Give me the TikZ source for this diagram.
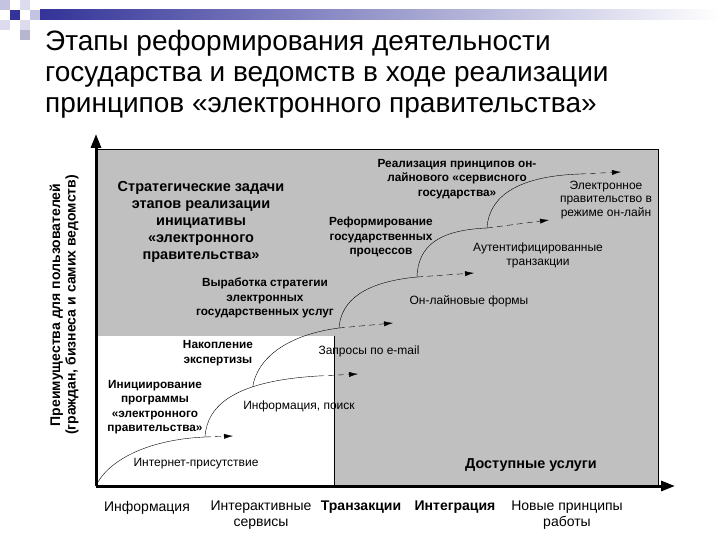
\documentclass[tikz,border=0pt]{standalone}
\usepackage{fontspec}
\setmainfont{Liberation Sans}
\usetikzlibrary{arrows.meta}

\definecolor{navy}{HTML}{333399}
\definecolor{panelgray}{HTML}{C0C0C0}
\definecolor{lilac}{HTML}{C4C4E2}
\definecolor{palelilac}{HTML}{DCDCEE}

\tikzset{
    stage/.style={font=\bfseries\fontsize{11.8}{14.5}\selectfont,align=center,inner sep=0pt},
    result/.style={font=\fontsize{12}{13.8}\selectfont,align=center,inner sep=0pt},
    level/.style={font=\fontsize{14}{15.5}\selectfont,align=center,inner sep=0pt},
    growth/.style={thin},
    trend/.style={thin,dash pattern=on 6pt off 4pt,-{Latex[length=9pt,width=5pt]}},
    axis/.style={line width=3pt,-{Triangle[length=14pt,width=10pt]}},
}

\begin{document}
\begin{tikzpicture}[x=1pt,y=-1pt]
        \useasboundingbox (0,0) rectangle (720,540);
        %% corner squares and bar
        \shade[left color=navy,right color=white] (40,10) rectangle (720,20);
        \fill[lilac] (0,0) rectangle (10,10);
        \fill[palelilac] (20,0) rectangle (30,10);
        \fill[navy] (10,10) rectangle (20,20);
        \fill[lilac] (30,10) rectangle (40,20);
        \fill[palelilac] (0,20) rectangle (10,30);
        \fill[palelilac] (20,20) rectangle (30,30);
        \fill[lilac!80!gray] (20,30) rectangle (30,40);
        %% title
        \node[anchor=north west,align=left,inner sep=0pt,font=\fontsize{28}{31}\selectfont] (title) at (45,30)
            {Этапы реформирования деятельности\\государства и ведомств в ходе реализации\\принципов «электронного правительства»};
        %% panels
        \fill[panelgray] (96,149) rectangle (658,486);
        \fill[white] (96,336) rectangle (334,486);
        \draw[thin] (96,149) -- (658,149) -- (658,486);
        \draw[thin] (334,336) -- (334,486);
        %% axes
        \coordinate (origin) at (96,486);
        \coordinate (ytip) at (96,134);
        \coordinate (xtip) at (675,486);
        \draw[axis] (origin) -- (ytip);
        \draw[axis] (origin) -- (xtip);
        \node[rotate=90,align=center,inner sep=0pt,font=\bfseries\fontsize{14}{15.5}\selectfont] (benefit) at (64,305)
            {Преимущества для пользователей\\(граждан, бизнеса и самих ведомств)};
        %% stages
        \coordinate (m1) at (205,437); \coordinate (t1) at (233,436);
        \coordinate (m2) at (318,376); \coordinate (t2) at (358,374);
        \coordinate (m3) at (339,328); \coordinate (t3) at (393,323);
        \coordinate (m4) at (417,277); \coordinate (t4) at (474,273);
        \coordinate (m5) at (487,228); \coordinate (t5) at (549,220);
        \coordinate (m6) at (580,174); \coordinate (t6) at (621,172);
        \draw[growth] (origin) .. controls +(9,-21) and +(-65,3) .. (m1);
        \draw[growth] (m1) .. controls +(2,-32) and +(-83,5) .. (m2) coordinate[pos=0.67] (b3);
        \draw[growth] (b3) .. controls +(4,-27) and +(-54,7) .. (m3);
        \draw[growth] (m3) .. controls +(2,-28) and +(-52,5) .. (m4);
        \draw[growth] (m4) .. controls +(1,-32) and +(-47,2) .. (m5);
        \draw[growth] (m5) .. controls +(2,-33) and +(-60,2) .. (m6);
        \foreach \i in {1,...,6}
            \draw[trend] (m\i) -- (t\i);
        %% labels
        \node[stage,font=\bfseries\fontsize{14.5}{17}\selectfont] (goals) at (201,222)
            {Стратегические задачи\\этапов реализации\\инициативы\\«электронного\\правительства»};
        \node[stage] (online) at (457,179) {Реализация принципов он-\\лайнового «сервисного\\государства»};
        \node[stage] (reform) at (381,237) {Реформирование\\государственных\\процессов};
        \node[stage] (strategy) at (265,298) {Выработка стратегии\\электронных\\государственных услуг};
        \node[stage] (expertise) at (218,353) {Накопление\\экспертизы};
        \node[stage] (launch) at (155,407) {Инициирование\\программы\\«электронного\\правительства»};
        \node[result] (egov) at (606,200) {Электронное\\правительство в\\режиме он-лайн};
        \node[result] (auth) at (538,255) {Аутентифицированные\\транзакции};
        \node[result] (forms) at (469,301) {Он-лайновые формы};
        \node[result] (email) at (369,351) {Запросы по e-mail};
        \node[result] (search) at (299,406) {Информация, поиск};
        \node[result] (presence) at (196,464) {Интернет-присутствие};
        \node[stage,font=\bfseries\fontsize{14.4}{16}\selectfont] (services) at (531,465) {Доступные услуги};
        %% levels
        \node[level,anchor=north] (info) at (147,501) {Информация};
        \node[level,anchor=north] (inter) at (261,501) {Интерактивные\\сервисы};
        \node[level,anchor=north,font=\bfseries\fontsize{14}{15.5}\selectfont] (trans) at (361,501) {Транзакции};
        \node[level,anchor=north,font=\bfseries\fontsize{14}{15.5}\selectfont] (integ) at (455,501) {Интеграция};
        \node[level,anchor=north] (newway) at (567,501) {Новые принципы\\работы};
    \end{tikzpicture}
\end{document}
